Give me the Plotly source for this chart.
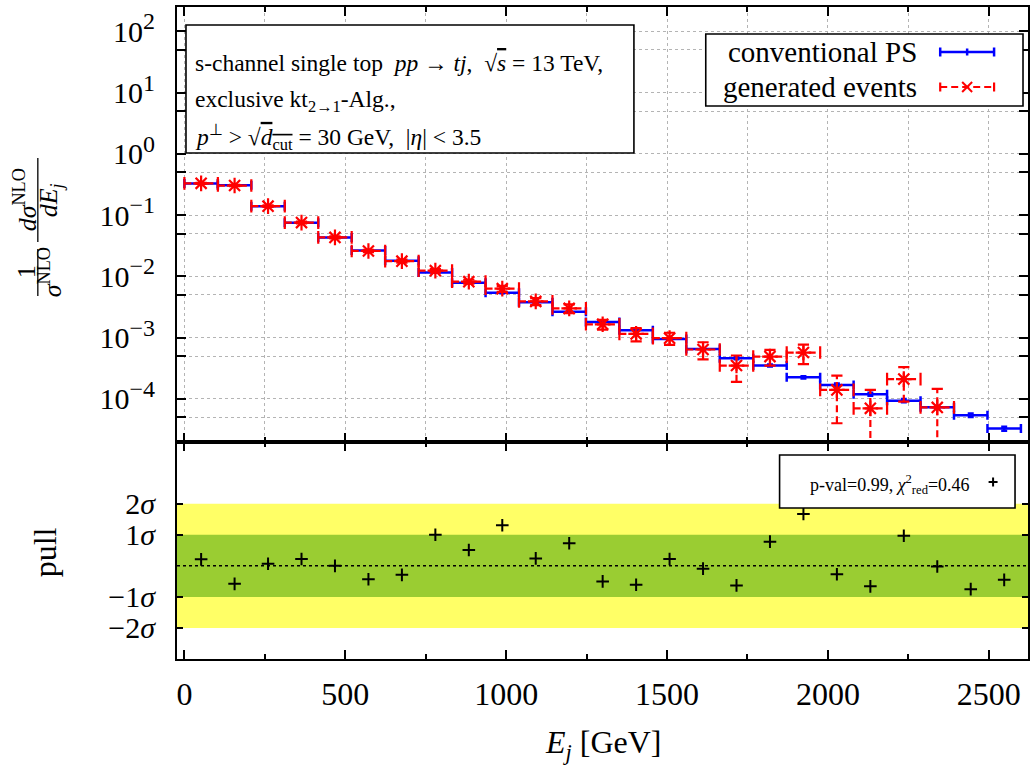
import plotly.graph_objects as go

# ---------------- data ----------------
E_centers = [52, 156, 260, 364, 468, 572, 676, 780, 884, 988, 1092, 1196, 1300,
             1404, 1508, 1612, 1716, 1820, 1924, 2028, 2132, 2236, 2340, 2444, 2548]
bin_half_width = 52

ps_values = [0.329, 0.308, 0.140, 0.075, 0.0433, 0.0265, 0.0180, 0.0116, 0.0079,
             0.0054, 0.00377, 0.00265, 0.0018, 0.00132, 0.00095, 0.00065, 0.00046,
             0.00035, 0.000225, 0.000169, 0.000119, 0.0000935, 0.000073, 0.000054,
             0.0000327]
ps_errors = [0.003, 0.003, 0.0014, 0.0008, 0.0005, 0.0003, 0.0002, 0.00015, 0.0001,
             0.00008, 0.00007, 0.00006, 0.00005, 0.00004, 0.00003, 0.000022, 0.000017,
             0.000014, 0.00001, 0.0000085, 0.0000065, 0.0000055, 0.0000045, 0.0000036,
             0.0000025]

gen_values = [0.330, 0.304, 0.140, 0.0755, 0.0433, 0.0260, 0.0177, 0.0124, 0.0082,
              0.0063, 0.0039, 0.0030, 0.00165, 0.00115, 0.00098, 0.00064, 0.00035,
              0.00049, 0.00057, 0.00014, 0.00007, 0.00021, 0.0000725]
gen_errors = [0.006, 0.007, 0.004, 0.0025, 0.0017, 0.0012, 0.0010, 0.0008, 0.0006,
              0.0007, 0.0005, 0.0005, 0.0003, 0.00028, 0.00022, 0.0002, 0.00016,
              0.00014, 0.0002, 0.0001, 0.00007, 0.00012, 0.0000725]

pull_values = [0.21, -0.58, 0.07, 0.22, 0.0, -0.43, -0.29, 1.0, 0.51, 1.31, 0.24, 0.73,
               -0.50, -0.61, 0.22, -0.09, -0.63, 0.78, 1.67, -0.27, -0.66, 0.97, -0.02,
               -0.75, -0.45]

y_tickvals = [1e-4, 1e-3, 1e-2, 1e-1, 1, 10, 100]
y_exponents = ["−4", "−3", "−2", "−1", "0", "1", "2"]
y_minor_vals = [5e-5, 5e-4, 5e-3, 5e-2, 0.5, 5, 50]
pull_tickvals = [-2, -1, 1, 2]
pull_ticktext = ["−2<i>σ</i>", "−1<i>σ</i>", "1<i>σ</i>", "2<i>σ</i>"]

# ---------------- layout helpers ----------------
W_FIG, H_FIG = 1034, 772
ML, MR, MT, MB = 177, 4, 7, 113
PW = W_FIG - ML - MR
PH = H_FIG - MT - MB
BOTTOM = H_FIG - MB
FONT = "Liberation Serif, Times New Roman, serif"
BLUE = "#0000ff"
RED = "#ff0000"

y_ticktext = ["10<sup><span style='font-size:24px'>%s</span></sup>" % e for e in y_exponents]


def px(x):
    return (x - ML) / PW


def py(y):
    return (BOTTOM - y) / PH


fig = go.Figure()

# conventional PS (blue)
fig.add_trace(go.Scatter(
    x=E_centers, y=ps_values, mode="markers", xaxis="x", yaxis="y",
    marker=dict(size=1, color=BLUE),
    error_x=dict(type="constant", value=bin_half_width, color=BLUE, thickness=2.5, width=4.5),
    error_y=dict(type="data", array=ps_errors, color=BLUE, thickness=2.5, width=3),
    showlegend=False, hoverinfo="skip"))

# generated events (red): dashed horizontal and vertical bars, caps, asterisks
hx, hy, vx, vy = [], [], [], []
cap_ns_x, cap_ns_y, cap_ew_x, cap_ew_y = [], [], [], []
for c, v, e in zip(E_centers, gen_values, gen_errors):
    lo, hi = c - bin_half_width, c + bin_half_width
    hx += [lo, hi, None]
    hy += [v, v, None]
    cap_ns_x += [lo, hi]
    cap_ns_y += [v, v]
    low = v - e
    vx += [c, c, None]
    vy += [low if low > 0 else v * 1e-3, v + e, None]
    cap_ew_x.append(c)
    cap_ew_y.append(v + e)
    if low > 0:
        cap_ew_x.append(c)
        cap_ew_y.append(low)

fig.add_trace(go.Scatter(x=hx, y=hy, mode="lines", xaxis="x", yaxis="y",
                         line=dict(color=RED, width=2.2, dash="7px,4px"),
                         showlegend=False, hoverinfo="skip"))
fig.add_trace(go.Scatter(x=vx, y=vy, mode="lines", xaxis="x", yaxis="y",
                         line=dict(color=RED, width=2.2, dash="7px,4px"),
                         showlegend=False, hoverinfo="skip"))
fig.add_trace(go.Scatter(x=cap_ns_x, y=cap_ns_y, mode="markers", xaxis="x", yaxis="y",
                         marker=dict(symbol="line-ns", size=9, color=RED,
                                     line=dict(color=RED, width=2.2)),
                         showlegend=False, hoverinfo="skip"))
fig.add_trace(go.Scatter(x=cap_ew_x, y=cap_ew_y, mode="markers", xaxis="x", yaxis="y",
                         marker=dict(symbol="line-ew", size=8, color=RED,
                                     line=dict(color=RED, width=2.2)),
                         showlegend=False, hoverinfo="skip"))
fig.add_trace(go.Scatter(x=E_centers[:len(gen_values)], y=gen_values, mode="markers",
                         xaxis="x", yaxis="y",
                         marker=dict(symbol="asterisk-open", size=13, color=RED,
                                     line=dict(color=RED, width=2.2)),
                         showlegend=False, hoverinfo="skip"))

# pull panel
fig.add_trace(go.Scatter(x=E_centers, y=pull_values, mode="markers", xaxis="x2", yaxis="y2",
                         marker=dict(symbol="cross-thin", size=9, color="black",
                                     line=dict(color="black", width=2)),
                         showlegend=False, hoverinfo="skip"))

GRID = "#b4b4b4"
axis_common = dict(showline=True, linecolor="black", linewidth=2, mirror="allticks",
                   ticks="inside", tickcolor="black", tickwidth=1.5, zeroline=False)

fig.update_layout(
    width=W_FIG, height=H_FIG,
    margin=dict(l=ML, r=MR, t=MT, b=MB),
    paper_bgcolor="white", plot_bgcolor="white",
    font=dict(family=FONT, color="black"),
    xaxis=dict(axis_common, domain=[0, 1], anchor="y", range=[-23, 2622],
               tickmode="linear", tick0=0, dtick=500, ticklen=9, showticklabels=False,
               showgrid=True, gridcolor=GRID, griddash="dot", gridwidth=1,
               minor=dict(dtick=250, tick0=0, ticks="inside", ticklen=5, tickcolor="black",
                          showgrid=True, gridcolor=GRID, griddash="dot", gridwidth=1)),
    yaxis=dict(axis_common, domain=[1 / 3, 1], anchor="x", type="log",
               range=[-4.699, 2.398], tickmode="array", tickvals=y_tickvals,
               ticktext=y_ticktext, ticklen=9, ticklabelstandoff=14,
               tickfont=dict(family=FONT, size=30, color="black"),
               showgrid=True, gridcolor=GRID, griddash="dot", gridwidth=1,
               minor=dict(tickmode="array", tickvals=y_minor_vals, ticks="inside", ticklen=9,
                          tickcolor="black", showgrid=True, gridcolor=GRID,
                          griddash="dot", gridwidth=1)),
    xaxis2=dict(axis_common, domain=[0, 1], anchor="y2", range=[-23, 2622],
                tickmode="linear", tick0=0, dtick=500, ticklen=9, showgrid=False,
                ticklabelstandoff=6, tickfont=dict(family=FONT, size=32, color="black"),
                minor=dict(dtick=250, tick0=0, ticks="inside", ticklen=5, tickcolor="black",
                           showgrid=False)),
    yaxis2=dict(axis_common, domain=[0, 1 / 3], anchor="x2", range=[-3, 4],
                tickmode="array", tickvals=pull_tickvals, ticktext=pull_ticktext,
                tickfont=dict(family=FONT, size=30, color="black"),
                ticklen=6, showgrid=False, ticklabelstandoff=14),
)

shapes = []
# pull bands
shapes.append(dict(type="rect", xref="x2 domain", yref="y2", x0=0, x1=1, y0=-2, y1=2,
                   fillcolor="#ffff66", line=dict(width=0), layer="below"))
shapes.append(dict(type="rect", xref="x2 domain", yref="y2", x0=0, x1=1, y0=-1, y1=1,
                   fillcolor="#9acd32", line=dict(width=0), layer="below"))
shapes.append(dict(type="line", xref="x2 domain", yref="y2", x0=0, x1=1, y0=0, y1=0,
                   line=dict(color="black", width=1.5, dash="dot"), layer="below"))

# info text box
shapes.append(dict(type="rect", xref="paper", yref="paper", x0=px(186), x1=px(635),
                   y0=py(153), y1=py(25), fillcolor="white",
                   line=dict(color="black", width=1.6), layer="above"))
# legend box (upper)
shapes.append(dict(type="rect", xref="paper", yref="paper", x0=px(707), x1=px(1025),
                   y0=py(106), y1=py(34), fillcolor="white",
                   line=dict(color="black", width=1.6), layer="above"))
# legend sample: conventional PS
ly1, ly2 = 52, 87
shapes.append(dict(type="line", xref="paper", yref="paper", x0=px(942), x1=px(996),
                   y0=py(ly1), y1=py(ly1), line=dict(color=BLUE, width=2.5)))
for xx in (942, 996):
    shapes.append(dict(type="line", xref="paper", yref="paper", x0=px(xx), x1=px(xx),
                       y0=py(ly1 - 4.5), y1=py(ly1 + 4.5), line=dict(color=BLUE, width=2.5)))
shapes.append(dict(type="line", xref="paper", yref="paper", x0=px(969), x1=px(969),
                   y0=py(ly1 - 3.5), y1=py(ly1 + 3.5), line=dict(color=BLUE, width=2.5)))
# legend sample: generated events
shapes.append(dict(type="line", xref="paper", yref="paper", x0=px(942), x1=px(996),
                   y0=py(ly2), y1=py(ly2), line=dict(color=RED, width=2.2, dash="7px,4px")))
for xx in (942, 996):
    shapes.append(dict(type="line", xref="paper", yref="paper", x0=px(xx), x1=px(xx),
                       y0=py(ly2 - 4.5), y1=py(ly2 + 4.5), line=dict(color=RED, width=2.2)))
for dx, dy in ((5, 5), (5, -5)):
    shapes.append(dict(type="line", xref="paper", yref="paper", x0=px(969 - dx), x1=px(969 + dx),
                       y0=py(ly2 - dy), y1=py(ly2 + dy), line=dict(color=RED, width=2)))
# pull legend box
shapes.append(dict(type="rect", xref="paper", yref="paper", x0=px(781), x1=px(1017),
                   y0=py(508), y1=py(455), fillcolor="white",
                   line=dict(color="black", width=1.6), layer="above"))
for dx, dy in ((4.5, 0), (0, 4.5)):
    shapes.append(dict(type="line", xref="paper", yref="paper", x0=px(995 - dx), x1=px(995 + dx),
                       y0=py(482 - dy), y1=py(482 + dy), line=dict(color="black", width=2)))
# y-title fraction bars
shapes.append(dict(type="line", xref="paper", yref="paper", x0=px(37.5), x1=px(37.5),
                   y0=py(296), y1=py(249), line=dict(color="black", width=1.3)))
shapes.append(dict(type="line", xref="paper", yref="paper", x0=px(37.5), x1=px(37.5),
                   y0=py(242), y1=py(158), line=dict(color="black", width=1.3)))

annotations = []


def ann(text, x, y, size, xanchor="center", yanchor="middle", angle=0):
    annotations.append(dict(text=text, xref="paper", yref="paper", x=px(x), y=py(y),
                            xanchor=xanchor, yanchor=yanchor, showarrow=False,
                            textangle=angle, font=dict(family=FONT, size=size, color="black")))


NB = "\u00a0"
ov = "<span style='text-decoration:overline'>"
ann("s-channel single top" + NB * 2 + "<i>pp</i> → <i>tj</i>," + NB * 2 + "√" + ov + "<i>s</i></span> = 13 TeV,",
    193, 63, 23.5, xanchor="left")
ann("exclusive kt<sub>2→1</sub>-Alg.,", 193, 101, 23.5, xanchor="left")
ann("<i>p</i><sup>⊥</sup> &gt; " + "√" + ov + "<i>d</i><sub>cut</sub></span> = 30 GeV," + NB * 2 + "|<i>η</i>| &lt; 3.5",
    193, 137, 23.5, xanchor="left")

ann("conventional PS", 921, ly1, 29, xanchor="right")
ann("generated events", 921, ly2, 29, xanchor="right")
ann("p-val=0.99," + NB + "<i>χ</i><sup>2</sup><sub>red</sub>=0.46", 974, 484, 18, xanchor="right")

# y titles
ann("1", 26, 272, 26, angle=-90)
ann("<i>σ</i><sup>NLO</sup>", 50, 272, 26, angle=-90)
ann("<i>dσ</i><sup>NLO</sup>", 26, 200, 26, angle=-90)
ann("<i>dE<sub>j</sub></i>", 50, 200, 26, angle=-90)
ann("pull", 45, 552, 32, angle=-90)
ann("<i>E<sub>j</sub></i> [GeV]", 605, 745, 32)

fig.update_layout(shapes=shapes, annotations=annotations)

fig.write_html("out.html", config={"displayModeBar": False},
               post_script="document.body.style.margin='0';")
